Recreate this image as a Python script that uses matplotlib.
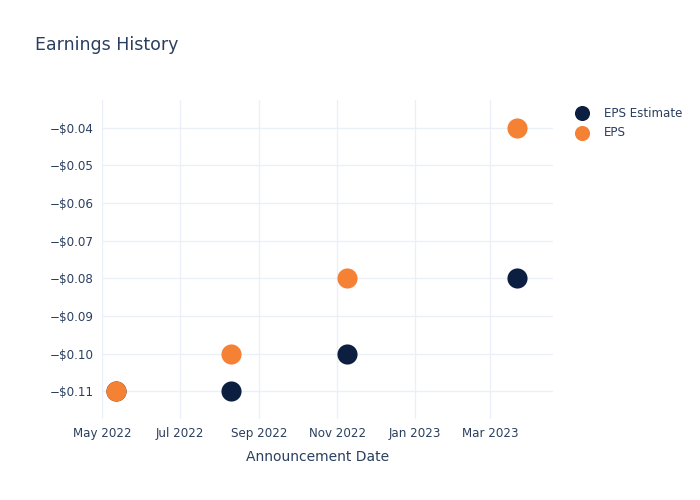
import pandas as pd
import matplotlib.pyplot as plt
import matplotlib.dates as mdates
from matplotlib.ticker import FuncFormatter

dates = ["2022-05-12", "2022-08-10", "2022-11-09", "2023-03-22"]
eps_estimate = [-0.11, -0.11, -0.10, -0.08]
eps_actual = [-0.11, -0.10, -0.08, -0.04]
tick_dates = ["2022-05-01", "2022-07-01", "2022-09-01", "2022-11-01", "2023-01-01", "2023-03-01"]
y_ticks = [-0.11, -0.10, -0.09, -0.08, -0.07, -0.06, -0.05, -0.04]

TEXT = "#2a3f5f"
GRID = "#ebf0f8"
NAVY = "#0c1f40"
ORANGE = "#f58134"

x = pd.to_datetime(dates)

fig = plt.figure(figsize=(7, 5), dpi=100)
ax = fig.add_axes([0.1457, 0.162, 0.6443, 0.638])

ax.scatter(x, eps_estimate, s=210, color=NAVY, label="EPS Estimate", zorder=3, linewidths=0)
ax.scatter(x, eps_actual, s=210, color=ORANGE, label="EPS", zorder=4, linewidths=0)

ax.set_xlim(pd.Timestamp("2022-05-01"), pd.Timestamp("2023-04-19"))
ax.set_ylim(-0.1174, -0.0326)

ax.set_xticks(pd.to_datetime(tick_dates))
ax.xaxis.set_major_formatter(mdates.DateFormatter("%b %Y"))
ax.set_yticks(y_ticks)
ax.yaxis.set_major_formatter(FuncFormatter(lambda v, _: f"\u2212${abs(v):.2f}"))

ax.grid(True, color=GRID, linewidth=1)
ax.set_axisbelow(True)
for s in ax.spines.values():
    s.set_visible(False)
ax.tick_params(length=0, labelsize=8.6, colors=TEXT, pad=6)

ax.set_xlabel("Announcement Date", fontsize=10, color=TEXT)
ax.xaxis.set_label_coords(0.477, -0.098)
fig.text(0.05, 0.91, "Earnings History", fontsize=12.5, color=TEXT, va="center")

ax.legend(loc="upper left", bbox_to_anchor=(1.023, 1.002), frameon=False,
          fontsize=8.6, labelcolor=TEXT, markerscale=0.75,
          handletextpad=0.8, labelspacing=0.55, borderaxespad=0.2)

fig.savefig("out.png", dpi=100)
